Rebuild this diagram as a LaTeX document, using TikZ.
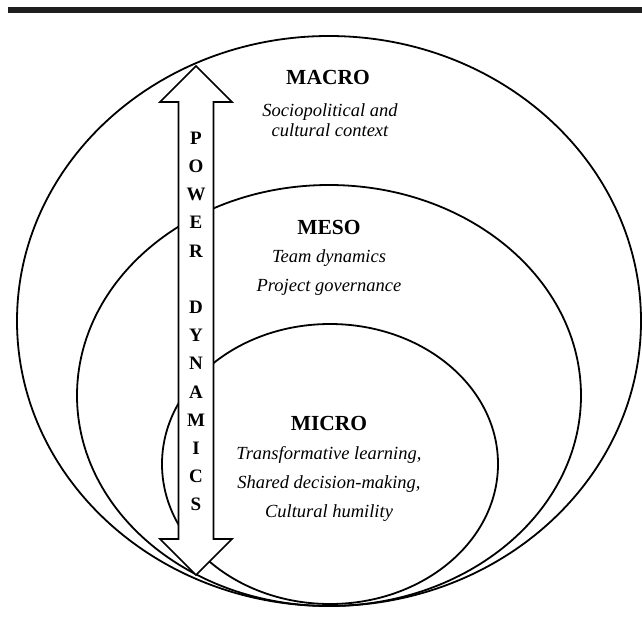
\documentclass[tikz,border=0pt]{standalone}
\usepackage{fontspec}
\setmainfont{Liberation Serif}
\usetikzlibrary{shapes.geometric, positioning}

\begin{document}
\begin{tikzpicture}[x=1pt, y=-1pt,
        ring/.style={draw, ellipse, line width=1.8pt, inner sep=0pt},
        level/.style={font=\fontsize{21.5}{25}\selectfont\bfseries, inner sep=0pt},
        levelnote/.style={font=\fontsize{18.5}{29}\selectfont\itshape, align=center, inner sep=0pt}]
        \useasboundingbox (0,0) rectangle (642,624);
        % top rule
        \fill[black!88] (8,7) rectangle (642,13);

        % Nested levels
        \node[ring, minimum width=624pt, minimum height=570pt] (macroring) at (329,321) {};
        \node[ring, minimum width=504pt, minimum height=421pt] (mesoring) at (329,395.5) {};
        \node[ring, minimum width=336pt, minimum height=280pt] (microring) at (330,464) {};

        % Power arrow
        \draw[line width=1.6pt, fill=white, line join=miter]
            (196,66) -- (232,102) -- (213.5,102) -- (213.5,539) -- (232,539) -- (196,575)
            -- (160,539) -- (178.5,539) -- (178.5,102) -- (160,102) -- cycle;
        \node[font=\fontsize{19}{28.2}\selectfont\bfseries, align=center, inner sep=0pt] (power) at (196,321.5)
            {P\\O\\W\\E\\R\\[28.2pt]D\\Y\\N\\A\\M\\I\\C\\S};

        % Labels
        \node[level] (macro) at (328,77) {MACRO};
        \node[levelnote, font=\fontsize{18.5}{20.5}\selectfont\itshape] (macronote) at (330,120) {Sociopolitical and\\cultural context};

        \node[level] (meso) at (329,227) {MESO};
        \node[levelnote] (mesonote) at (329,272.5) {Team dynamics\\Project governance};

        \node[level] (micro) at (329,423) {MICRO};
        \node[levelnote] (micronote) at (329,483.5) {Transformative learning,\\Shared decision-making,\\Cultural humility};
    \end{tikzpicture}
\end{document}
